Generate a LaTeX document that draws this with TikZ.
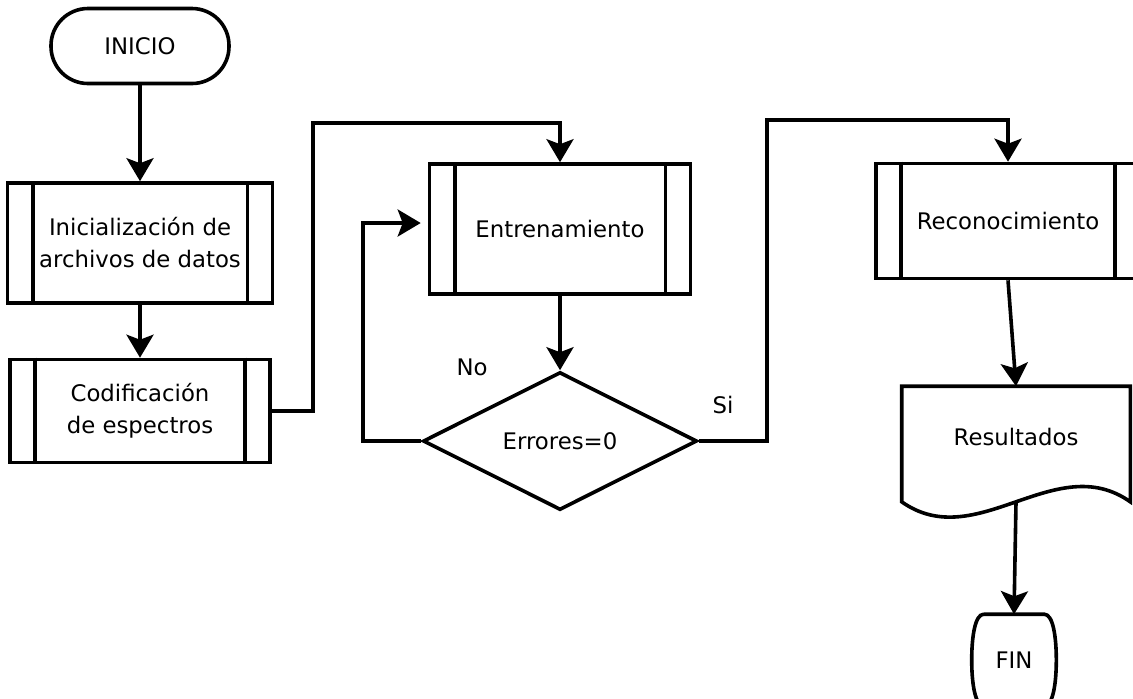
\documentclass[tikz,border=0pt]{standalone}
\usepackage{fontspec}
\setmainfont{DejaVu Sans}
\usetikzlibrary{positioning,shapes.geometric,arrows.meta}

\begin{document}
\begin{tikzpicture}[x=0.5pt, y=-0.5pt, line width=1.8pt, node distance={50pt},
  font=\fontsize{11.4}{16}\selectfont,
  proc/.style = {draw, rectangle, align=center, minimum width=132pt},
  term/.style = {draw, rectangle, rounded corners=18.5pt, minimum width=89pt, minimum height=37.5pt},
  cond/.style = {draw, diamond, minimum width=137pt, minimum height=69pt, inner sep=0pt},
  arr/.style = {-{Stealth[length=11.5pt, width=13.5pt, inset=2.5pt]}}]
\useasboundingbox (0,0) rectangle (1133,698);
\clip (0,0) rectangle (1133,698);
\node[term] (inicio) at (140,46) {INICIO};
\node[proc, minimum width=132.5pt, minimum height=60pt] (ini) [below of=inicio, node distance=98.5pt] {Inicialización de\\archivos de datos};
\node[proc, minimum width=130pt, minimum height=51.5pt] (cod) [below of=ini, node distance=84pt] {Codificación\\de espectros};
\node[proc, minimum width=130.5pt, minimum height=65pt] (ent) at (560,229) {Entrenamiento};
\node[cond] (err) [below of=ent, node distance=106pt] {Errores=0};
\node[proc, minimum width=132pt, minimum height=57.5pt] (rec) at (1008,221) {Reconocimiento};
\node[minimum width=112.5pt, minimum height=49pt] (res) at (1016,437) {Resultados};
\node[minimum width=40.5pt, minimum height=44pt] (fin) at (1014,660) {FIN};
\node (no) at (472,367) {No};
\node (si) at (723,405) {Si};
% barras laterales de los subprocesos
\foreach \n in {ini,cod,ent,rec} {
  \draw ([xshift=13.5pt]\n.north west) -- ([xshift=13.5pt]\n.south west);
  \draw ([xshift=-13.5pt]\n.north east) -- ([xshift=-13.5pt]\n.south east);
}
% documento y terminal final
\draw (res.north west) -- (res.north east) -- ([yshift=-7pt]res.south east)
  .. controls +(-75,-53) and +(75,53) .. ([yshift=-7pt]res.south west) -- cycle;
\draw ([xshift=6pt]fin.north west) -- ([xshift=-6pt]fin.north east)
  .. controls +(9,0) and +(0,-22) .. (fin.east)
  .. controls +(0,22) and +(9,0) .. ([xshift=-6pt]fin.south east)
  -- ([xshift=6pt]fin.south west)
  .. controls +(-9,0) and +(0,22) .. (fin.west)
  .. controls +(0,-22) and +(-9,0) .. ([xshift=6pt]fin.north west);
\coordinate (c1) at (313,123);
\coordinate (c2) at (363,223);
\coordinate (c3) at (767,120);
\draw[arr] (inicio) -- (ini);
\draw[arr] (ini) -- (cod);
\draw[arr] (cod.east) -| (c1) -| (ent.north);
\draw[arr] (ent) -- (err);
\draw[arr, shorten >=3.5pt] (err.west) -| (c2) -- (c2 -| ent.west);
\draw[arr] (err.east) -| (c3) -| (rec.north);
\draw[arr] (rec.south) -- (res.north);
\draw[arr] ([yshift=-7pt]res.south) -- (fin.north);
\end{tikzpicture}
\end{document}
